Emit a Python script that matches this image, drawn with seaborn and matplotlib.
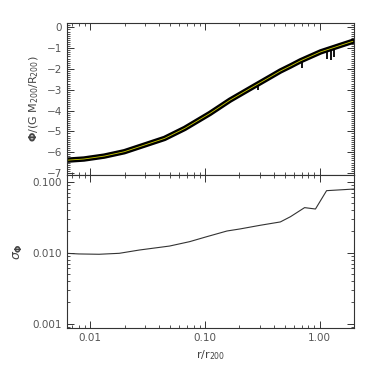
import numpy as np
import pandas as pd
import matplotlib
matplotlib.use('Agg')
import matplotlib.pyplot as plt
import matplotlib.ticker as mticker
import seaborn as sns

# potential profile (centre of particle band)
r_phi = [0.00616, 0.00886, 0.0133, 0.0199, 0.0298, 0.0446, 0.0668, 0.1107,
         0.1657, 0.248, 0.372, 0.455, 0.557, 0.681, 1.02, 1.53, 1.95]
phi = [-6.39, -6.33, -6.19, -5.98, -5.66, -5.34, -4.86, -4.14,
       -3.50, -2.94, -2.38, -2.10, -1.86, -1.61, -1.18, -0.86, -0.67]

# particles scattering below the band
dip_r = [0.29, 0.70, 1.17, 1.25, 1.33]
dip_top = [-2.75, -1.60, -1.05, -1.00, -0.97]
dip_low = [-3.02, -1.95, -1.50, -1.58, -1.42]

# scatter of the potential
r_sig = [0.0062, 0.0080, 0.0120, 0.018, 0.0269, 0.0493, 0.0738, 0.104, 0.156,
         0.203, 0.303, 0.455, 0.557, 0.74, 0.92, 1.15, 2.03]
sig = [0.0098, 0.0096, 0.0095, 0.0098, 0.0109, 0.0124, 0.0143, 0.0168, 0.0202,
       0.0216, 0.0243, 0.0271, 0.0321, 0.0431, 0.0412, 0.0747, 0.0789]

x_ticks = [0.01, 0.1, 1.0]
x_ticklabels = ['0.01', '0.10', '1.00']
phi_ticks = [0, -1, -2, -3, -4, -5, -6, -7]
sig_ticks = [0.1, 0.01, 0.001]
sig_ticklabels = ['0.100', '0.010', '0.001']

sns.set_style('ticks')
plt.rcParams['font.family'] = ['DejaVu Sans']

df_phi = pd.DataFrame({'r': r_phi, 'phi': phi})
df_sig = pd.DataFrame({'r': r_sig, 'sig': sig})

fig = plt.figure(figsize=(3.74, 3.74), dpi=100)
ax1 = fig.add_axes([0.179, 0.532, 0.768, 0.406])
ax2 = fig.add_axes([0.179, 0.123, 0.768, 0.409], sharex=ax1)

# top panel: black particle band with yellow mean line
sns.lineplot(data=df_phi, x='r', y='phi', ax=ax1, color='black', linewidth=3.9)
ax1.vlines(dip_r, dip_low, dip_top, color='black', linewidth=1.3)
sns.lineplot(data=df_phi, x='r', y='phi', ax=ax1, color='#cfcf00', linewidth=0.6)
ax1.set_xscale('log')
ax1.set_xlim(0.0063, 2.0)
ax1.set_ylim(-7.1, 0.2)
ax1.set_yticks(phi_ticks)
ax1.set_yticklabels([str(t).replace('-', '\u2212') for t in phi_ticks])
ax1.yaxis.set_minor_locator(mticker.MultipleLocator(0.1))
ax1.set_xlabel('')
ax1.set_ylabel(r'$\mathbf{\Phi}$/(G M$_{200}$/R$_{200}$)', fontsize=8, color='#444444')
ax1.tick_params(labelbottom=False)

# bottom panel: sigma
sns.lineplot(data=df_sig, x='r', y='sig', ax=ax2, color='#333333', linewidth=0.8)
ax2.set_xscale('log')
ax2.set_yscale('log')
ax2.set_xlim(0.0063, 2.0)
ax2.set_ylim(0.00087, 0.124)
ax2.set_yticks(sig_ticks)
ax2.set_yticklabels(sig_ticklabels)
ax2.set_xticks(x_ticks)
ax2.set_xticklabels(x_ticklabels)
ax2.set_xlabel(r'r/r$_{200}$', fontsize=8, color='#444444')
ax2.set_ylabel(r'$\sigma_{\mathbf{\Phi}}$', fontsize=9, color='#444444', rotation=90)

for ax in (ax1, ax2):
    ax.tick_params(which='both', direction='in', top=True, right=True,
                   labelsize=7.5, labelcolor='#555555', color='#333333')
    ax.tick_params(which='major', length=5, width=0.7)
    ax.tick_params(which='minor', length=2.5, width=0.6)
    for s in ax.spines.values():
        s.set_linewidth(0.8)
        s.set_color('#333333')
    ax.xaxis.set_minor_locator(mticker.LogLocator(base=10, subs=np.arange(2, 10)))
ax2.yaxis.set_minor_locator(mticker.LogLocator(base=10, subs=np.arange(2, 10)))
ax2.yaxis.set_minor_formatter(mticker.NullFormatter())
ax2.xaxis.set_minor_formatter(mticker.NullFormatter())

ax1.yaxis.set_label_coords(-0.09, 0.5)
ax2.yaxis.set_label_coords(-0.146, 0.5)

fig.savefig('out.png', dpi=100)
